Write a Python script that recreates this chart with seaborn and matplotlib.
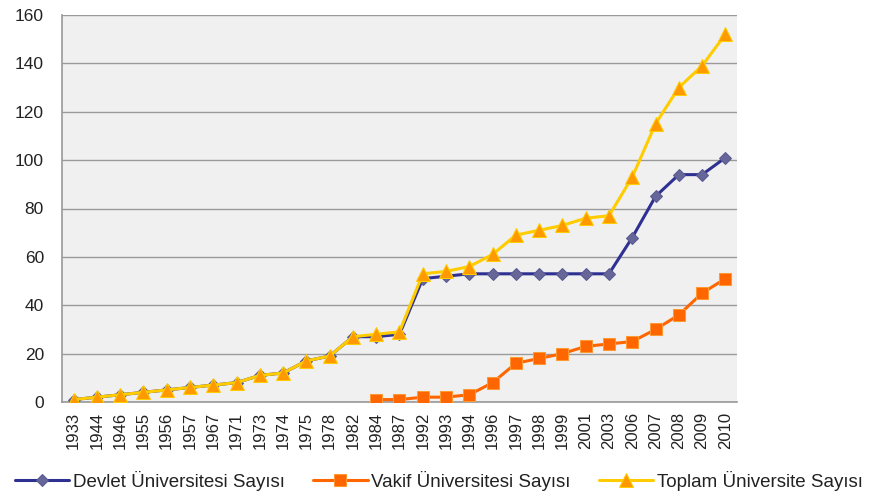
import numpy as np
import pandas as pd
import matplotlib
matplotlib.use("Agg")
import matplotlib.pyplot as plt
import seaborn as sns

# data
years = ["1933", "1944", "1946", "1955", "1956", "1957", "1967", "1971", "1973", "1974",
         "1975", "1978", "1982", "1984", "1987", "1992", "1993", "1994", "1996", "1997",
         "1998", "1999", "2001", "2003", "2006", "2007", "2008", "2009", "2010"]
devlet = [1, 2, 3, 4, 5, 6, 7, 8, 11, 12,
          17, 19, 27, 27, 28, 51, 52, 53, 53, 53,
          53, 53, 53, 53, 68, 85, 94, 94, 101]
vakif = [np.nan] * 13 + [1, 1, 2, 2, 3, 8, 16, 18, 20, 23, 24, 25, 30, 36, 45, 51]
toplam = [1, 2, 3, 4, 5, 6, 7, 8, 11, 12,
          17, 19, 27, 28, 29, 53, 54, 56, 61, 69,
          71, 73, 76, 77, 93, 115, 130, 139, 152]

labels = ["Devlet Üniversitesi Sayısı", "Vakif Üniversitesi Sayısı", "Toplam Üniversite Sayısı"]

df = pd.DataFrame({"pos": np.arange(len(years)), "devlet": devlet,
                   "vakif": vakif, "toplam": toplam})

sns.set_style("white")
plt.rcParams["font.family"] = ["Liberation Sans", "DejaVu Sans"]

fig = plt.figure(figsize=(8.7, 4.97), dpi=100)
ax = fig.add_axes([62 / 870, 1 - 402 / 497, 675 / 870, 387 / 497])
ax.set_facecolor("#F0F0F0")

sns.lineplot(data=df, x="pos", y="devlet", ax=ax, color="#2E3192", lw=2.2,
             marker="D", markersize=6, markerfacecolor="#666699",
             markeredgecolor="#5A5A94", label=labels[0], zorder=3)
sns.lineplot(data=df.dropna(), x="pos", y="vakif", ax=ax, color="#FF6600", lw=2.2,
             marker="s", markersize=8.5, markerfacecolor="#FF6600",
             markeredgecolor="#FF9933", label=labels[1], zorder=4)
sns.lineplot(data=df, x="pos", y="toplam", ax=ax, color="#FFCC00", lw=2.2,
             marker="^", markersize=10, markerfacecolor="#FF9900",
             markeredgecolor="#FFCC00", label=labels[2], zorder=5)

ax.set_xlim(-0.5, len(years) - 0.5)
ax.set_ylim(0, 160)
ax.set_yticks(range(0, 161, 20))
ax.yaxis.grid(True, color="#9A9A9A", lw=1)
ax.set_axisbelow(True)

ax.set_xticks(np.arange(len(years)))
ax.set_xticklabels(years, rotation=90, fontsize=12, color="#222222")
ax.set_xticks(np.arange(len(years) + 1) - 0.5, minor=True)
ax.tick_params(axis="x", which="major", length=0, pad=7)
ax.tick_params(axis="x", which="minor", length=6, color="#999999", width=1, direction="out")
ax.tick_params(axis="y", length=9, color="#999999", width=1, direction="out",
               labelsize=12.5, labelcolor="#222222", pad=4)
ax.set_xlabel("")
ax.set_ylabel("")

for s in ["top", "right"]:
    ax.spines[s].set_visible(False)
for s in ["left", "bottom"]:
    ax.spines[s].set_color("#999999")
    ax.spines[s].set_linewidth(1.2)

handles, lbls = ax.get_legend_handles_labels()
ax.get_legend().remove()
fig.legend(handles, lbls, loc="center", bbox_to_anchor=(439 / 870, 1 - 481 / 497),
           ncol=3, frameon=False, fontsize=13.5, handlelength=2.9,
           columnspacing=1.5, handletextpad=0.2, labelcolor="#222222")

fig.savefig("out.png", dpi=100)
